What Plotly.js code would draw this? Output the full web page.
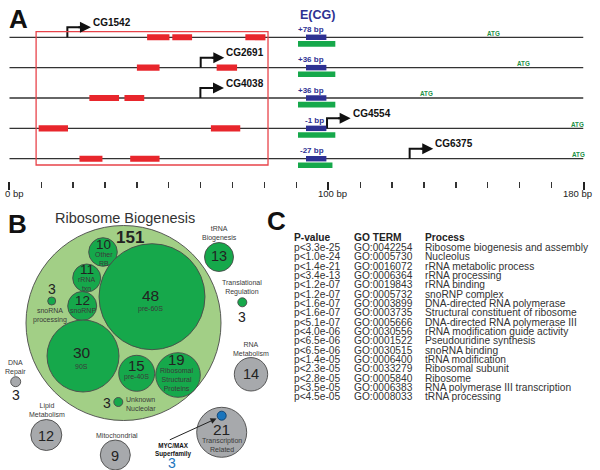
<!DOCTYPE html>
<html><head><meta charset="utf-8">
<script src="https://cdn.plot.ly/plotly-3.0.1.min.js"></script>
<style>html,body{margin:0;padding:0;background:#fff}#chart{width:600px;height:470px}</style>
</head><body><div id="chart"></div>
<script>
// ================= DATA =================
// Panel A : promoter map (positions in bp)
const genes      = ['CG1542','CG2691','CG4038','CG4554','CG6375'];
const tssBp      = [18.2, 60.0, 59.9, 99.6, 125.5];
const eboxLabels = ['+78 bp','+36 bp','+36 bp','-1 bp','-27 bp'];
const atgBp      = [151.9, 161.3, 130.8, 178.2, 178.5];
const redStart   = [[43.2,51.1,74.0],[40.0,65.0],[25.1,36.1],[9.2,63.2],[22.0,37.9]];
const redEnd     = [[50.2,57.3,80.3],[47.1,71.4],[34.4,42.3],[18.4,72.4],[29.2,47.1]];
const eboxStart  = [93.0, 93.0, 93.0, 93.0, 93.0];
const eboxEnd    = [99.4, 99.4, 99.4, 99.4, 99.4];
const consStart  = [90.5, 90.5, 90.5, 90.5, 90.5];
const consEnd    = [102.2, 102.2, 102.2, 102.2, 101.3];
const regionBp   = [8.4, 81.1];
const axisTickVals = [0, 100, 180];
const axisTickText = ['0 bp','100 bp','180 bp'];

// Panel B : GO category bubbles
const bubbleNames  = ['Ribosome Biogenesis','Other<br>RB','rRNA<br>txn','snoRNP','snoRNA<br>processing','pre-60S','90S','pre-40S','Ribosomal<br>Structural<br>Proteins','Unknown<br>Nucleolar','tRNA<br>Biogenesis','Translational<br>Regulation','RNA<br>Metabolism','DNA<br>Repair','Lipid<br>Metabolism','Mitochondrial','Transcription<br>Related','MYC/MAX<br>Superfamily'];
const bubbleCounts = [151, 10, 11, 12, 3, 48, 30, 15, 19, 3, 13, 3, 14, 3, 12, 9, 21, 3];

// Panel C : GO enrichment table
const tableHeaders = ['P-value','GO TERM','Process'];
const pValues  = ['p<3.3e-25','p<1.0e-24','p<1.4e-21','p<3.4e-13','p<1.2e-07','p<1.2e-07','p<1.6e-07','p<1.6e-07','p<5.1e-07','p<4.0e-06','p<6.5e-06','p<6.5e-06','p<1.4e-05','p<2.3e-05','p<2.8e-05','p<3.5e-05','p<4.5e-05'];
const goTerms  = ['GO:0042254','GO:0005730','GO:0016072','GO:0006364','GO:0019843','GO:0005732','GO:0003899','GO:0003735','GO:0005666','GO:0030556','GO:0001522','GO:0030515','GO:0006400','GO:0033279','GO:0005840','GO:0006383','GO:0008033'];
const processes = ['Ribosome biogenesis and assembly','Nucleolus','rRNA metabolic process','rRNA processing','rRNA binding','snoRNP complex','DNA-directed RNA polymerase','Structural constituent of ribosome','DNA-directed RNA polymerase III','rRNA modification guide activity','Pseudouridine synthesis','snoRNA binding','tRNA modification','Ribosomal subunit','Ribosome','RNA polymerase III transcription','tRNA processing'];

// ================= STYLE / LAYOUT =================
const FONT = 'Liberation Sans, Arial, Helvetica, sans-serif';
const RED = '#e8262c', BLUE = '#2e3192', GREEN = '#16a84b', ATG = '#1b8f45';
const LIGHTG = '#a2cf86', GRAY = '#a7a9ac', MYC = '#1b75bc', EDGE = '#4a4a4a';

// bubble placement (panel B pixel-like coordinates) : cx, cy, r, number pos, label pos
const bubbleGeom = [
  {cx:123.5,cy:323,r:97.5, fill:LIGHTG, nx:129.5,ny:237.5,ns:17,bold:true, lx:125,ly:218,ls:14.5},
  {cx:103,cy:252,r:14.3, fill:GREEN, nx:103.5,ny:244.5,ns:13.5, lx:103.5,ly:258.5,ls:7},
  {cx:86.7,cy:278,r:14, fill:GREEN, nx:86.7,ny:269.5,ns:13.5, lx:86.7,ly:283.7,ls:7},
  {cx:82.2,cy:306,r:14.5, fill:GREEN, nx:82.7,ny:300,ns:13.5, lx:82.7,ly:310.7,ls:7},
  {cx:51.7,cy:301,r:4, fill:GREEN, nx:51.7,ny:289.3,ns:14, lx:50,ly:315.2,ls:7},
  {cx:152,cy:296.7,r:53, fill:GREEN, nx:150,ny:295,ns:15.5, lx:150,ly:309.3,ls:7},
  {cx:83,cy:356,r:36, fill:GREEN, nx:81.7,ny:352.5,ns:15.5, lx:81.7,ly:366,ls:7},
  {cx:136.7,cy:373.3,r:18, fill:GREEN, nx:136.7,ny:365.7,ns:15, lx:136.7,ly:377.3,ls:7},
  {cx:178,cy:375,r:22.3, fill:GREEN, nx:176.7,ny:359.3,ns:15, lx:176.7,ly:379.2,ls:7},
  {cx:118.3,cy:402,r:4.5, fill:GREEN, nx:106.7,ny:403.3,ns:14, lx:125.3,ly:403.7,ls:7,la:'left'},
  {cx:219,cy:257,r:14.5, fill:GREEN, nx:218.5,ny:256,ns:14.5, lx:219,ly:233.5,ls:7},
  {cx:242.3,cy:302.3,r:4.5, fill:GREEN, nx:242.3,ny:316.5,ns:14, lx:242.3,ly:287,ls:7},
  {cx:251,cy:374.3,r:16.7, fill:GRAY, nx:250.7,ny:374.3,ns:14.5, lx:250.5,ly:348.5,ls:7},
  {cx:15.7,cy:381.7,r:5, fill:GRAY, nx:15.7,ny:395,ns:14, lx:15.7,ly:367,ls:7},
  {cx:46.3,cy:435,r:15.5, fill:GRAY, nx:45.5,ny:435.5,ns:14.5, lx:46.5,ly:409.5,ls:7},
  {cx:115.3,cy:455,r:15, fill:GRAY, nx:115.3,ny:456,ns:14.5, lx:116.5,ly:435.7,ls:7},
  {cx:221.7,cy:432.3,r:25, fill:GRAY, nx:221.7,ny:429.5,ns:15.5, lx:221.7,ly:444.7,ls:7},
  {cx:221.7,cy:415.7,r:4.5, fill:MYC, nx:171.7,ny:463.3,ns:14,ncol:MYC, lx:173.3,ly:449.5,ls:6.3,lbold:true,lcol:'#111'}
];

// panel A row geometry: row r at pixel 37.3 + 30.35*r ; panel occupies pixels 0..200
const rowOf = p => (p - 37.3) / 30.35;
// panel C row geometry
const rowC = p => (p - 247.3) / 9.35;

const shapes = [], annotations = [], traces = [];

// ---------- Panel A ----------
const lx = [], ly = [];
genes.forEach((g, i) => { lx.push(0, 180, null); ly.push(i, i, null); });
traces.push({x: lx, y: ly, xaxis:'x', yaxis:'y', mode:'lines', line:{color:'#333', width:1.3}, hoverinfo:'skip'});

shapes.push({type:'rect', xref:'x', yref:'y', x0:regionBp[0], x1:regionBp[1], y0:rowOf(31.7), y1:rowOf(165),
  line:{color:'#e8434a', width:1.3}, fillcolor:'rgba(0,0,0,0)', layer:'above'});

genes.forEach((g, i) => {
  redStart[i].forEach((s, k) => {
    shapes.push({type:'rect', xref:'x', yref:'y', x0:s, x1:redEnd[i][k], y0:i-0.1, y1:i+0.1, fillcolor:RED, line:{width:0}, layer:'above'});
  });
  shapes.push({type:'rect', xref:'x', yref:'y', x0:eboxStart[i], x1:eboxEnd[i], y0:i-0.09, y1:i+0.09, fillcolor:BLUE, line:{width:0}, layer:'above'});
  shapes.push({type:'rect', xref:'x', yref:'y', x0:consStart[i], x1:consEnd[i], y0:i+0.125, y1:i+0.31, fillcolor:GREEN, line:{width:0}, layer:'above'});
  annotations.push({xref:'x', yref:'y', x:eboxEnd[i], y:i-0.26, xanchor:'right', yanchor:'middle', showarrow:false,
    text:'<b>'+eboxLabels[i]+'</b>', font:{family:FONT, size:8, color:BLUE}});
  annotations.push({xref:'x', yref:'y', x:atgBp[i], y:i-0.14, xanchor:'center', yanchor:'middle', showarrow:false,
    text:'<b>ATG</b>', font:{family:FONT, size:6.3, color:ATG}});
  // TSS bent arrow
  const top = i - 0.33;
  traces.push({x:[tssBp[i], tssBp[i], tssBp[i]+5], y:[i, top, top], xaxis:'x', yaxis:'y', mode:'lines',
    line:{color:'#111', width:2}, hoverinfo:'skip'});
  annotations.push({xref:'x', yref:'y', axref:'x', ayref:'y', x:tssBp[i]+7.4, y:top, ax:tssBp[i]+3, ay:top,
    showarrow:true, arrowhead:2, arrowsize:1.1, arrowwidth:2, arrowcolor:'#111', text:''});
  annotations.push({xref:'x', yref:'y', x:tssBp[i]+7.4, y:i-0.49, xanchor:'left', yanchor:'middle', showarrow:false,
    text:'<b>'+g+'</b>', font:{family:FONT, size:10, color:'#111'}});
});
annotations.push({xref:'x', yref:'y', x:96.6, y:rowOf(15), xanchor:'center', yanchor:'middle', showarrow:false,
  text:'<b>E(CG)</b>', font:{family:FONT, size:12.5, color:BLUE}});
const tickShift = [5, 4, -6];
axisTickVals.forEach((v, k) => {
  annotations.push({xref:'x', yref:'y', x:v, y:rowOf(193.5), xanchor:'center', yanchor:'middle', xshift:tickShift[k], showarrow:false,
    text:axisTickText[k], font:{family:FONT, size:9.5, color:'#222'}});
});

// ---------- Panel B ----------
traces.push({x:[0], y:[470], xaxis:'x2', yaxis:'y2', mode:'markers', marker:{opacity:0}, hoverinfo:'skip'});
bubbleGeom.forEach((b, i) => {
  shapes.push({type:'circle', xref:'x2', yref:'y2', x0:b.cx-b.r, x1:b.cx+b.r, y0:b.cy-b.r, y1:b.cy+b.r,
    fillcolor:b.fill, line:{color: b.fill===MYC ? '#0e3f6e' : EDGE, width:0.9}, layer:'above'});
});
bubbleGeom.forEach((b, i) => {
  const n = String(bubbleCounts[i]);
  annotations.push({xref:'x2', yref:'y2', x:b.nx, y:b.ny, xanchor:'center', yanchor:'middle', showarrow:false, borderpad:0,
    text: b.bold ? '<b>'+n+'</b>' : n, font:{family:FONT, size:b.ns, color:b.ncol||'#222'}});
  annotations.push({xref:'x2', yref:'y2', x:b.lx, y:b.ly, xanchor:b.la||'center', yanchor:'middle', align:b.la||'center', showarrow:false, borderpad:0,
    text: b.lbold ? '<b>'+bubbleNames[i]+'</b>' : bubbleNames[i],
    font:{family:FONT, size:b.ls, color:b.lcol || (i===0 ? '#333' : '#3a3a3a')}});
});
annotations.push({xref:'x2', yref:'y2', axref:'x2', ayref:'y2', x:216.5, y:418.5, ax:168.3, ay:440.5,
  showarrow:true, arrowhead:2, arrowsize:1.2, arrowwidth:1, arrowcolor:'#222', text:''});

// ---------- Panel C ----------
traces.push({x:[285], y:[0], xaxis:'x3', yaxis:'y3', mode:'markers', marker:{opacity:0}, hoverinfo:'skip'});
const colX = [292.5, 353, 423.5];
tableHeaders.forEach((h, k) => {
  annotations.push({xref:'x3', yref:'y3', x:colX[k], y:rowC(237.7), xanchor:'left', yanchor:'middle', showarrow:false, borderpad:0,
    text:'<b>'+h+'</b>', font:{family:FONT, size:10.2, color:'#222'}});
});
[pValues, goTerms, processes].forEach((col, k) => {
  col.forEach((t, i) => {
    annotations.push({xref:'x3', yref:'y3', x:colX[k], y:i, xanchor:'left', yanchor:'middle', showarrow:false, borderpad:0,
      text:t, font:{family:FONT, size:10.2, color:'#333'}});
  });
});

// panel letters
[['A',18.5,19],['B',17,224],['C',276,221]].forEach(([t, x, y]) => {
  annotations.push({xref:'paper', yref:'paper', x:x/600, y:1-y/470, xanchor:'center', yanchor:'middle', showarrow:false,
    text:'<b>'+t+'</b>', font:{family:FONT, size:26, color:'#111'}});
});

const layout = {
  width:600, height:470, margin:{l:0, r:0, t:0, b:0},
  paper_bgcolor:'#ffffff', plot_bgcolor:'rgba(0,0,0,0)', showlegend:false,
  xaxis:{domain:[9.3/600, 583.5/600], range:[0,180], anchor:'free', position:1-180.5/470,
    showgrid:false, zeroline:false, showline:false, showticklabels:false,
    tickmode:'array', tickvals:axisTickVals, ticks:'outside', ticklen:8, tickwidth:2, tickcolor:'#222',
    minor:{ticks:'outside', dtick:10, tick0:0, ticklen:6, tickwidth:1.3, tickcolor:'#333', showgrid:false}},
  yaxis:{domain:[1-200/470, 1], range:[rowOf(200), rowOf(0)], visible:false, anchor:'x'},
  xaxis2:{domain:[0, 285/600], range:[0, 285], visible:false, anchor:'y2'},
  yaxis2:{domain:[0, 270/470], range:[470, 200], visible:false, anchor:'x2'},
  xaxis3:{domain:[285/600, 1], range:[285, 600], visible:false, anchor:'y3'},
  yaxis3:{domain:[0, 270/470], range:[rowC(470), rowC(200)], visible:false, anchor:'x3'},
  shapes:shapes, annotations:annotations
};
Plotly.newPlot('chart', traces, layout, {displayModeBar:false, staticPlot:true});
</script></body></html>
